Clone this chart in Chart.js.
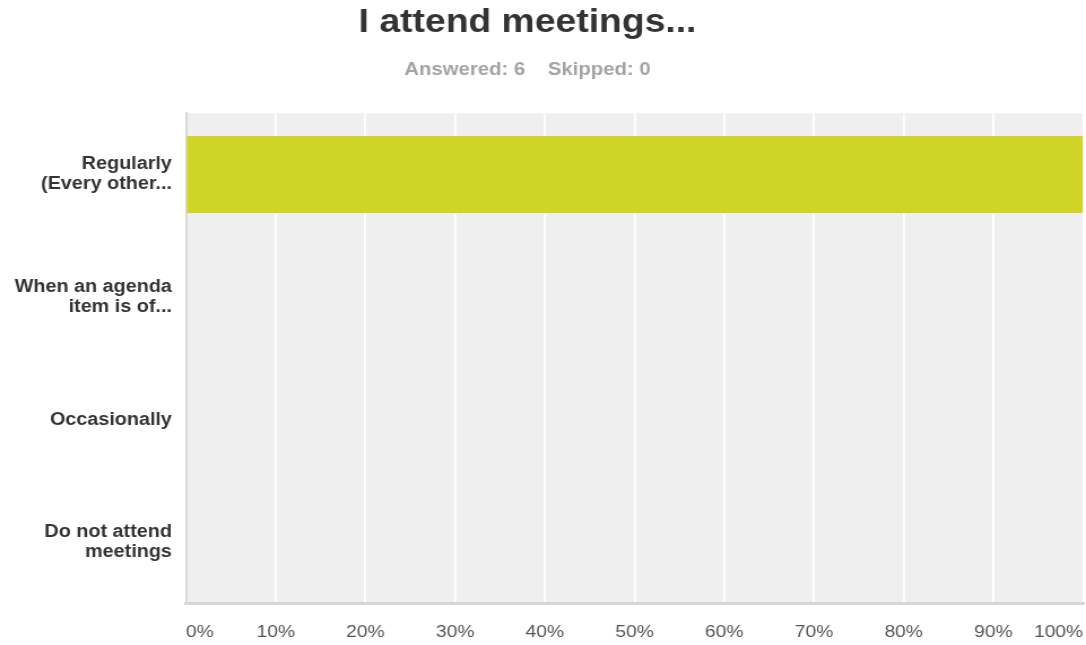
<!DOCTYPE html>
<html>
<head>
<meta charset="utf-8">
<script src="https://cdn.jsdelivr.net/npm/chart.js@4/dist/chart.umd.min.js"></script>
<style>
  html, body { margin: 0; padding: 0; background: #fff; overflow: hidden; width: 1086px; height: 645px; }
  #wrap { position: absolute; left: 0; top: 0; width: 961px; height: 645px; transform: scaleX(1.1301); transform-origin: 0 0; }
  #c { display: block; }
</style>
</head>
<body>
<div id="wrap"><canvas id="c" width="961" height="645"></canvas></div>
<script>
const chartTitle = "I attend meetings...";
const chartSubtitle = "Answered: 6    Skipped: 0";
const categories = [
  ["Regularly", "(Every other..."],
  ["When an agenda", "item is of..."],
  ["Occasionally"],
  ["Do not attend", "meetings"]
];
const percentValues = [100, 0, 0, 0];
const xTickMin = 0;
const xTickMax = 100;
const xTickStep = 10;

const FONT = "'Liberation Sans', Arial, Helvetica, sans-serif";

const plotBg = {
  id: 'plotBg',
  beforeDraw(chart) {
    const { ctx, chartArea: a } = chart;
    ctx.save();
    ctx.fillStyle = '#efefef';
    ctx.fillRect(a.left, a.top, a.right - a.left, a.bottom - a.top);
    ctx.restore();
  }
};

// titles in the reference are centred a little left of the page centre
const titleShift = {
  id: 'titleShift',
  afterLayout(chart) {
    const d = 12.4;
    chart.boxes.forEach(b => {
      if (b.position === 'top' && b.options && b.options.text !== undefined) {
        b.left -= d;
        b.right -= d;
      }
    });
  }
};

new Chart(document.getElementById('c'), {
  type: 'bar',
  data: {
    labels: categories,
    datasets: [{
      data: percentValues,
      backgroundColor: '#cfd427',
      borderWidth: 0,
      categoryPercentage: 1,
      barPercentage: 0.63
    }]
  },
  options: {
    indexAxis: 'y',
    responsive: false,
    maintainAspectRatio: false,
    animation: false,
    devicePixelRatio: 1,
    layout: { padding: { left: 0, right: 2.6, top: 0, bottom: 2 } },
    plugins: {
      legend: { display: false },
      tooltip: { enabled: false },
      title: {
        display: true,
        text: chartTitle,
        color: '#333333',
        font: { family: FONT, size: 33, weight: 'bold' },
        padding: { top: 3, bottom: 0 }
      },
      subtitle: {
        display: true,
        text: chartSubtitle,
        color: '#a3a3a3',
        font: { family: FONT, size: 18, weight: 'bold' },
        padding: { top: 17, bottom: 32 }
      }
    },
    scales: {
      x: {
        min: xTickMin,
        max: xTickMax,
        afterFit: s => { s.paddingLeft = 0; s.paddingRight = 0; s.height = 39.4; },
        ticks: {
          stepSize: xTickStep,
          callback: v => v + '%',
          align: 'inner',
          maxRotation: 0,
          color: '#555555',
          padding: 19,
          font: { family: FONT, size: 17 }
        },
        grid: { color: '#ffffff', lineWidth: 1.8, drawTicks: false },
        border: { display: true, color: '#d6d6d6', width: 3 }
      },
      y: {
        afterFit: s => { s.width = 164.6; s.paddingTop = 0; s.paddingBottom = 0; },
        ticks: {
          color: '#333333',
          padding: 12.5,
          font: { family: FONT, size: 17.5, weight: 'bold', lineHeight: 1.15 }
        },
        grid: { display: false, drawTicks: false },
        border: { display: true, color: '#d9d9d9', width: 2 }
      }
    }
  },
  plugins: [plotBg, titleShift]
});
</script>
</body>
</html>
